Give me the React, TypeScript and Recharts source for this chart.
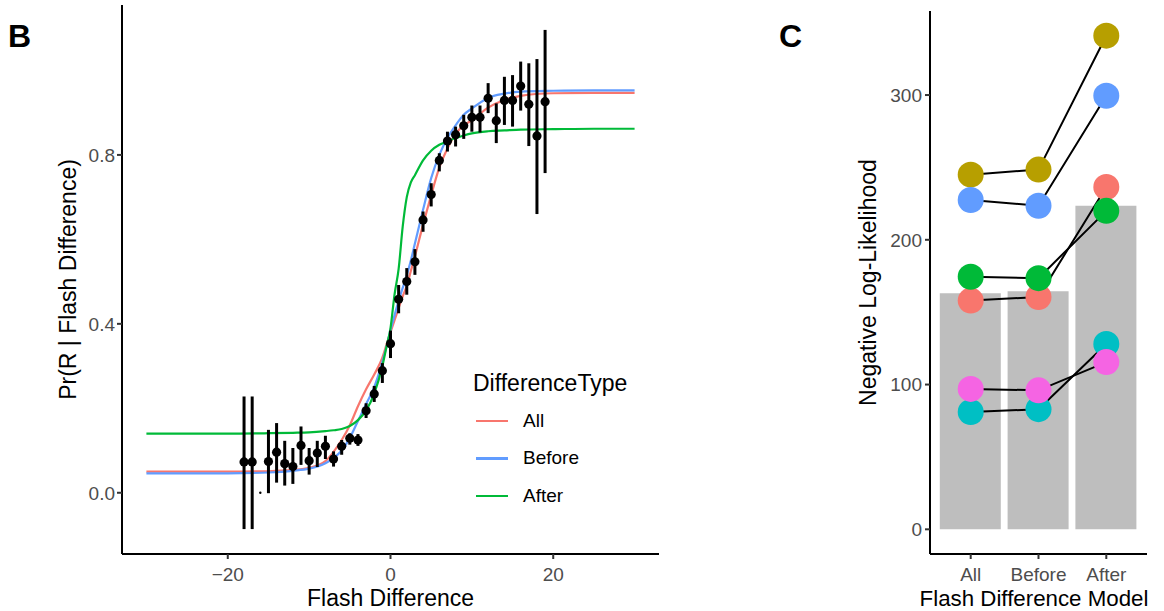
import React from 'react';
import { Bar, ComposedChart, ErrorBar, Label, Line, Scatter, XAxis, YAxis } from 'recharts';

const FONT = '"Liberation Sans", Arial, Helvetica, sans-serif';
const TICK = { fill: '#4D4D4D', fontSize: 19, fontFamily: FONT };

// --- panel B: observed proportions with intervals
const diffX = [-18, -17, -15, -14, -13, -12, -11, -10, -9, -8, -7, -6, -5, -4, -3, -2, -1, 0, 1, 2, 3, 4, 5, 6, 7, 8, 9, 10, 11, 12, 13, 14, 15, 16, 17, 18, 19];
const propY = [0.073, 0.073, 0.074, 0.096, 0.069, 0.062, 0.112, 0.076, 0.094, 0.110, 0.080, 0.110, 0.129, 0.125, 0.194, 0.234, 0.289, 0.353, 0.458, 0.500, 0.547, 0.646, 0.706, 0.787, 0.833, 0.848, 0.869, 0.889, 0.889, 0.934, 0.881, 0.929, 0.929, 0.963, 0.920, 0.845, 0.926];
const propLo = [-0.086, -0.086, -0.001, 0.024, 0.017, 0.021, 0.066, 0.043, 0.061, 0.080, 0.062, 0.090, 0.114, 0.111, 0.177, 0.215, 0.260, 0.319, 0.425, 0.469, 0.516, 0.618, 0.678, 0.761, 0.808, 0.820, 0.838, 0.855, 0.853, 0.899, 0.828, 0.871, 0.867, 0.905, 0.821, 0.660, 0.757];
const propHi = [0.228, 0.228, 0.149, 0.165, 0.123, 0.106, 0.157, 0.106, 0.123, 0.135, 0.098, 0.125, 0.141, 0.139, 0.212, 0.253, 0.307, 0.384, 0.492, 0.532, 0.577, 0.666, 0.733, 0.804, 0.855, 0.867, 0.895, 0.917, 0.917, 0.970, 0.922, 0.985, 0.989, 1.021, 1.017, 1.027, 1.096];
// lone point with no interval
const strayX = [-16];
const strayY = [0.0];

// fitted curves, read at these x values
const curveX = [-30, -20, -15, -12, -10, -8, -7, -6, -5, -4, -3, -2, -1, -0.5, 0, 0.5, 1, 1.5, 2, 2.5, 3, 4, 5, 6, 7, 8, 9, 10, 12, 14, 16, 20, 25, 30];
const allFit = [0.050, 0.050, 0.051, 0.054, 0.059, 0.075, 0.097, 0.125, 0.160, 0.205, 0.245, 0.280, 0.320, 0.350, 0.380, 0.409, 0.437, 0.465, 0.490, 0.525, 0.560, 0.635, 0.705, 0.770, 0.815, 0.850, 0.870, 0.882, 0.912, 0.930, 0.940, 0.946, 0.947, 0.947];
const beforeFit = [0.046, 0.046, 0.048, 0.052, 0.057, 0.070, 0.082, 0.100, 0.130, 0.170, 0.210, 0.250, 0.310, 0.345, 0.385, 0.420, 0.455, 0.485, 0.515, 0.550, 0.590, 0.670, 0.745, 0.800, 0.840, 0.870, 0.895, 0.910, 0.935, 0.945, 0.950, 0.952, 0.953, 0.953];
const afterFit = [0.140, 0.140, 0.141, 0.142, 0.143, 0.146, 0.148, 0.151, 0.158, 0.172, 0.195, 0.235, 0.300, 0.345, 0.390, 0.470, 0.530, 0.630, 0.700, 0.735, 0.752, 0.787, 0.810, 0.824, 0.832, 0.840, 0.846, 0.851, 0.856, 0.858, 0.860, 0.861, 0.862, 0.862];

const fitNames = ['All', 'Before', 'After'];
const fitColors = ['#F8766D', '#619CFF', '#00BA38'];

// --- panel C: negative log-likelihood per model
const models = ['All', 'Before', 'After'];
const meanNLL = [163, 164.5, 223.5];
const subjRed = [158, 160.5, 236.5];
const subjOlive = [245, 248.5, 341];
const subjGreen = [174.5, 173.5, 220];
const subjCyan = [81, 83, 128];
const subjBlue = [227.5, 223.5, 299.5];
const subjPink = [97, 96, 115.5];

const subjects = [
  { key: 's1', vals: subjRed, color: '#F8766D' },
  { key: 's2', vals: subjOlive, color: '#B79F00' },
  { key: 's3', vals: subjGreen, color: '#00BA38' },
  { key: 's4', vals: subjCyan, color: '#00BFC4' },
  { key: 's5', vals: subjBlue, color: '#619CFF' },
  { key: 's6', vals: subjPink, color: '#F564E3' },
];

const points = diffX.map((x, i) => ({ x, y: propY[i], err: [propY[i] - propLo[i], propHi[i] - propY[i]] }));
const stray = strayX.map((x, i) => ({ x, y: strayY[i] }));
const fits = [allFit, beforeFit, afterFit].map(f => curveX.map((x, i) => ({ x, y: f[i] })));

const nllRows = models.map((m, i) => {
  const row: Record<string, number | string> = { model: m, mean: meanNLL[i] };
  subjects.forEach(s => { row[s.key] = s.vals[i]; });
  return row;
});

const axisLine = { stroke: '#000', strokeWidth: 2 };
const tickLine = { stroke: '#333', strokeWidth: 2 };

function YTitle({ text, x, cy }: { text: string; x: number; cy: number }) {
  return (
    <text x={x} y={cy} transform={`rotate(-90, ${x}, ${cy})`} textAnchor="middle" fontSize={23} fontFamily={FONT} fill="#000">
      {text}
    </text>
  );
}

function FitLegend() {
  return (
    <div style={{ position: 'absolute', left: 473, top: 368, fontFamily: FONT, color: '#000' }}>
      <div style={{ fontSize: 23, lineHeight: '30px' }}>DifferenceType</div>
      {fitNames.map((n, i) => (
        <div key={n} style={{ display: 'flex', alignItems: 'center', height: 37.5, marginTop: i === 0 ? 4 : 0 }}>
          <span style={{ display: 'inline-block', width: 32, height: 2.5, background: fitColors[i], marginLeft: 3 }} />
          <span style={{ fontSize: 19, marginLeft: 15 }}>{n}</span>
        </div>
      ))}
    </div>
  );
}

export default function App() {
  return (
    <div style={{ position: 'absolute', left: 0, top: 0, width: 1164, height: 611, background: '#fff', fontFamily: FONT }}>
      <div style={{ position: 'absolute', left: 8, top: 18, fontSize: 32, fontWeight: 'bold' }}>B</div>
      <div style={{ position: 'absolute', left: 779, top: 18, fontSize: 32, fontWeight: 'bold' }}>C</div>

      <div style={{ position: 'absolute', left: 0, top: 0 }}>
        <ComposedChart width={680} height={611} margin={{ top: 5, right: 21, bottom: 0, left: 0 }}>
          <XAxis dataKey="x" type="number" domain={[-33, 33]} ticks={[-20, 0, 20]} allowDataOverflow
            tickFormatter={v => (v < 0 ? `\u2212${Math.abs(v)}` : `${v}`)}
            axisLine={axisLine} tickLine={tickLine} tickSize={5} tickMargin={9} tick={TICK} height={57}>
            <Label content={({ viewBox }: any) => (
              <text x={viewBox.x + viewBox.width / 2} y={606} textAnchor="middle" fontSize={23} fontFamily={FONT}>Flash Difference</text>
            )} />
          </XAxis>
          <YAxis dataKey="y" type="number" domain={[-0.145, 1.155]} ticks={[0, 0.4, 0.8]} allowDataOverflow
            tickFormatter={v => v.toFixed(1)}
            axisLine={axisLine} tickLine={tickLine} tickSize={5} tickMargin={2} tick={TICK} width={122}>
            <Label content={({ viewBox }: any) => <YTitle text="Pr(R | Flash Difference)" x={76} cy={viewBox.y + viewBox.height / 2} />} />
          </YAxis>
          {fits.map((d, i) => (
            <Line key={fitNames[i]} data={d} dataKey="y" type="monotone" stroke={fitColors[i]} strokeWidth={2.2}
              dot={false} activeDot={false} isAnimationActive={false} />
          ))}
          <Scatter data={points} dataKey="y" fill="#000" isAnimationActive={false}
            shape={(p: any) => <circle cx={p.cx} cy={p.cy} r={4.6} fill="#000" />}>
            <ErrorBar dataKey="err" direction="y" width={0} strokeWidth={3} stroke="#000" isAnimationActive={false} />
          </Scatter>
          <Scatter data={stray} dataKey="y" fill="#000" isAnimationActive={false}
            shape={(p: any) => <circle cx={p.cx} cy={p.cy} r={1.2} fill="#000" />} />
        </ComposedChart>
      </div>
      <FitLegend />

      <div style={{ position: 'absolute', left: 780, top: 0 }}>
        <ComposedChart width={384} height={611} data={nllRows} margin={{ top: 11, right: 17, bottom: 0, left: 0 }}>
          <XAxis dataKey="model" type="category" padding={{ left: 6.8, right: 6.8 }}
            axisLine={axisLine} tickLine={tickLine} tickSize={5} tickMargin={9} tick={TICK} height={57}>
            <Label content={() => (
              <text x={254} y={606} textAnchor="middle" fontSize={22.3} fontFamily={FONT}>Flash Difference Model</text>
            )} />
          </XAxis>
          <YAxis type="number" domain={[-17.05, 358.05]} ticks={[0, 100, 200, 300]} allowDataOverflow
            axisLine={axisLine} tickLine={tickLine} tickSize={5} tickMargin={3} tick={TICK} width={150}>
            <Label content={({ viewBox }: any) => <YTitle text="Negative Log-Likelihood" x={96} cy={viewBox.y + viewBox.height / 2} />} />
          </YAxis>
          <Bar dataKey="mean" fill="#BEBEBE" barSize={61} isAnimationActive={false} />
          {subjects.map(s => (
            <Line key={`l${s.key}`} dataKey={s.key} type="linear" stroke="#000" strokeWidth={2}
              dot={false} activeDot={false} isAnimationActive={false} />
          ))}
          {subjects.map(s => (
            <Line key={`d${s.key}`} dataKey={s.key} type="linear" stroke="none" strokeWidth={0}
              dot={{ r: 13, fill: s.color, stroke: 'none' }} activeDot={false} isAnimationActive={false} />
          ))}
        </ComposedChart>
      </div>
    </div>
  );
}
